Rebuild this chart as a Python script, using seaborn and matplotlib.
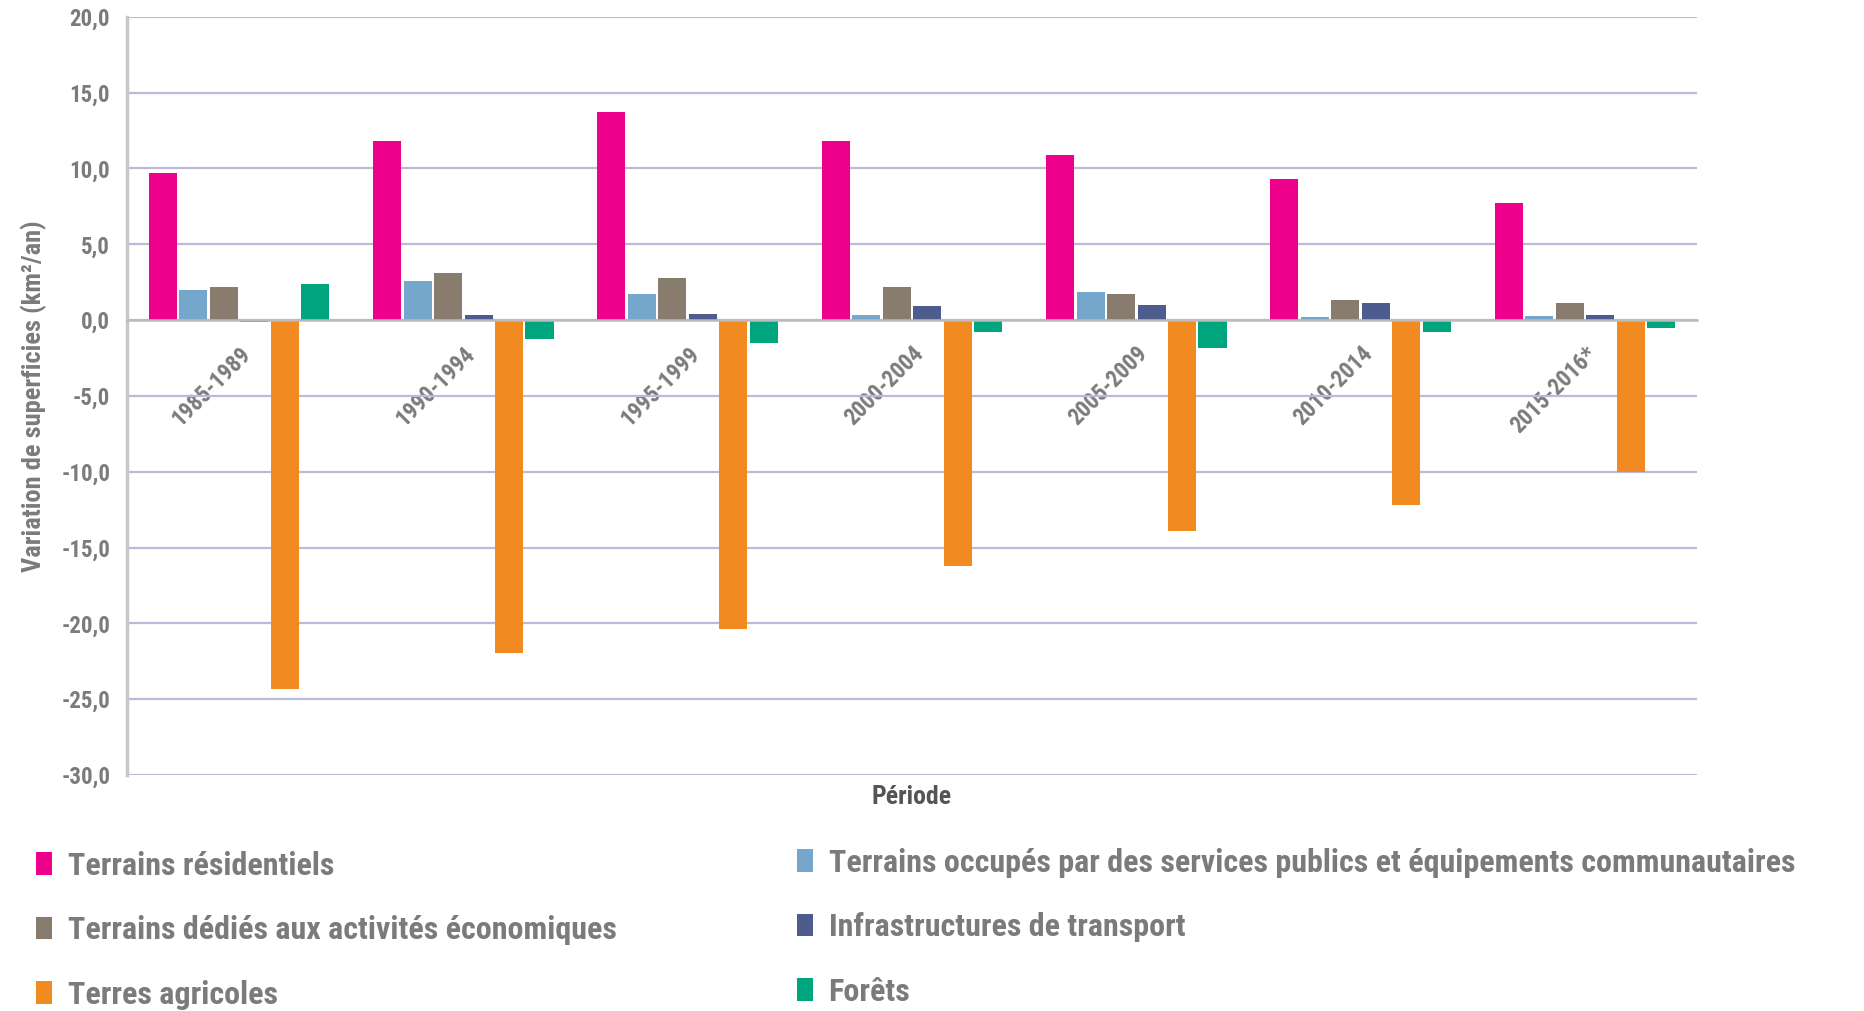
import numpy as np
import pandas as pd
import matplotlib
matplotlib.use("Agg")
import matplotlib.pyplot as plt
import seaborn as sns
from matplotlib import font_manager
from matplotlib.ticker import FuncFormatter, FixedLocator
from matplotlib.patches import Patch

periods = ["1985-1989", "1990-1994", "1995-1999", "2000-2004", "2005-2009", "2010-2014", "2015-2016*"]
residentiels = [9.7, 11.8, 13.7, 11.8, 10.9, 9.3, 7.7]
services_publics = [2.0, 2.55, 1.7, 0.35, 1.85, 0.2, 0.3]
economiques = [2.2, 3.1, 2.75, 2.15, 1.7, 1.3, 1.15]
transport = [-0.15, 0.33, 0.37, 0.9, 0.97, 1.13, 0.35]
agricoles = [-24.3, -21.95, -20.4, -16.2, -13.9, -12.2, -10.0]
forets = [2.35, -1.25, -1.5, -0.8, -1.85, -0.8, -0.5]

series_names = [
    "Terrains résidentiels",
    "Terrains occupés par des services publics et équipements communautaires",
    "Terrains dédiés aux activités économiques",
    "Infrastructures de transport",
    "Terres agricoles",
    "Forêts",
]
series_values = [residentiels, services_publics, economiques, transport, agricoles, forets]
colors = ["#EC008C", "#74A7CB", "#877C6D", "#4E5B8F", "#F28A22", "#00A57E"]
yticks = [20, 15, 10, 5, 0, -5, -10, -15, -20, -25, -30]

rows = []
for name, vals in zip(series_names, series_values):
    for p, v in zip(periods, vals):
        rows.append({"Période": p, "valeur": v, "série": name})
df = pd.DataFrame(rows)

sns.set_style("white")
names = {f.name for f in font_manager.fontManager.ttflist}
if "Roboto Condensed" in names:
    fam = "Roboto Condensed"
    k = 1.0
elif "Liberation Sans Narrow" in names:
    fam = "Liberation Sans Narrow"
    k = 1.0
else:
    fam = "DejaVu Sans"
    k = 0.78
plt.rcParams["font.family"] = [fam, "DejaVu Sans"]
plt.rcParams["font.weight"] = "bold"

leg_size = 23 * k
tick_size = 16.5 * k

gray = "#7b7b7b"
fig = plt.figure(figsize=(18.65, 10.11), dpi=100)
ax = fig.add_axes([0.068, 0.2334, 0.842, 0.750])

sns.barplot(data=df, x="Période", y="valeur", hue="série", hue_order=series_names,
            palette=colors, saturation=1, width=0.815, gap=0.08, linewidth=0, ax=ax, legend=False)

ax.set_ylim(-30, 20)
ax.set_xlim(-0.5, len(periods) - 0.5)
ax.yaxis.set_major_locator(FixedLocator(yticks))
ax.yaxis.set_major_formatter(FuncFormatter(lambda v, p: f"{v:.1f}".replace(".", ",")))
ax.grid(axis="y", color="#BDB9DC", linewidth=1.6)
ax.set_axisbelow(True)

for s in ["top", "right"]:
    ax.spines[s].set_visible(False)
ax.spines["left"].set_color("#C8C8C8")
ax.spines["left"].set_linewidth(2.5)
ax.spines["bottom"].set_position(("data", 0))
ax.spines["bottom"].set_color("#BBBBBB")
ax.spines["bottom"].set_linewidth(1.8)
ax.spines["bottom"].set_zorder(3)

ax.tick_params(axis="y", length=7, color="#C8C8C8", width=1.5, labelsize=tick_size, labelcolor=gray, pad=5)
ax.tick_params(axis="x", which="major", length=0, labelsize=tick_size, labelcolor=gray, pad=16)
ax.set_xticks(np.arange(len(periods)) - 0.5, minor=True)
ax.tick_params(axis="x", which="minor", length=6, color="#BBBBBB", width=1.5, direction="out")
for lab in ax.get_xticklabels():
    lab.set_rotation(45)
    lab.set_ha("right")
    lab.set_va("top")
    lab.set_rotation_mode("anchor")
    lab.set_fontweight("bold")
for lab in ax.get_yticklabels():
    lab.set_fontweight("bold")

ax.set_ylabel("Variation de superficies (km²/an)", fontsize=19 * k, color=gray,
              fontweight="bold", labelpad=10)
ax.set_xlabel("")
fig.text(0.489, 0.212, "Période", ha="center", va="center", fontsize=18.5 * k, color="#555555",
         fontweight="bold")

col1 = [0, 2, 4]
col2 = [1, 3, 5]
common = dict(frameon=False, fontsize=leg_size, labelcolor=gray, handlelength=0.48, handleheight=0.72,
              handletextpad=0.5, labelspacing=1.08, borderpad=0, borderaxespad=0, loc="center left")
leg1 = fig.legend([Patch(facecolor=colors[i], edgecolor="none") for i in col1],
                  [series_names[i] for i in col1], bbox_to_anchor=(0.0195, 0.080), **common)
leg2 = fig.legend([Patch(facecolor=colors[i], edgecolor="none") for i in col2],
                  [series_names[i] for i in col2], bbox_to_anchor=(0.4275, 0.083), **common)
for leg in (leg1, leg2):
    for t in leg.get_texts():
        t.set_fontweight("bold")

fig.savefig("out.png", dpi=100)
